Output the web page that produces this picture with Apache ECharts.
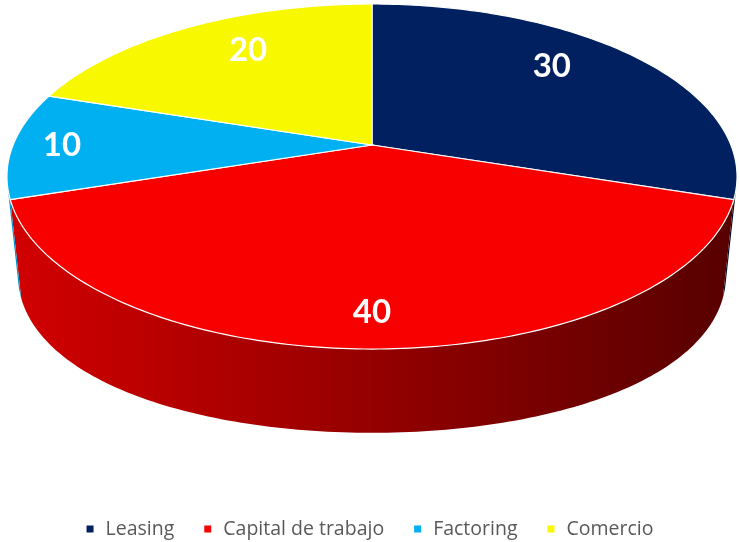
<!DOCTYPE html>
<html>
<head>
<meta charset="utf-8">
<script src="https://cdn.jsdelivr.net/npm/echarts@6/dist/echarts.min.js"></script>
<style>
  html, body { margin: 0; padding: 0; background: #ffffff; }
  #chart { width: 740px; height: 542px; }
</style>
</head>
<body>
<div id="chart"></div>
<script>
// Share of the portfolio by product line
const categories = ['Leasing', 'Capital de trabajo', 'Factoring', 'Comercio'];
const values = [30, 40, 10, 20];

// Face colours of each slice, and the shaded colours of its outer wall
const topColors = ['#002060', '#F80000', '#00B0F0', '#F8F800'];
const wallStops = [
  ['#001a4d', '#000c26'],
  ['#d40000', '#560000'],
  ['#0090c8', '#005070'],
  ['#c8c800', '#707000']
];

// Camera used to draw the disc in perspective (disc radius = 1)
const CX = 372, CY = 145;           // screen position of the disc centre
const TILT = 27.69 * Math.PI / 180; // elevation of the viewer
const DIST = 4.847;                 // viewer distance
const FOCAL = 358.9 * DIST;         // focal length in px
const THICK = 0.236;                // disc thickness
const SIDE_SWELL = 0.32;            // extra wall depth towards the flanks
const SA = Math.sin(TILT), CA = Math.cos(TILT);

function project(deg, rho, height) {
  const t = deg * Math.PI / 180;
  const X = rho * Math.sin(t), Z = rho * Math.cos(t);
  const yv = Z * SA + height * CA;
  const w = Z * CA - height * SA;
  const s = FOCAL / (DIST + w);
  return [CX + X * s, CY - yv * s];
}

// Lower rim of the disc wall below the rim point at angle deg
function projectBottom(deg) {
  const top = project(deg, 1, 0);
  const low = project(deg, 1, -THICK);
  const sn = Math.sin(deg * Math.PI / 180);
  const k = 1 + SIDE_SWELL * sn * sn;
  return [top[0] + (low[0] - top[0]) * k, top[1] + (low[1] - top[1]) * k];
}

// Angular extent of each slice, clockwise from the back of the disc
const total = values.reduce((a, b) => a + b, 0);
let acc = 0;
const sliceData = values.map((v, i) => {
  const start = acc / total * 360;
  acc += v;
  const end = acc / total * 360;
  return { name: categories[i], value: [v, start, end] };
});

// Outer wall faces the viewer where cos(theta) < -1 / (DIST * cos(tilt))
const wallLimit = Math.acos(-1 / (DIST * CA)) * 180 / Math.PI;
const wallFrom = wallLimit, wallTo = 360 - wallLimit;

// Label placement: shift from the mid-angle and radial fraction
const labelPlacement = [
  { turn: -7.4, rho: 0.755 },
  { turn: 0, rho: 0.85 },
  { turn: 0, rho: 0.864 },
  { turn: 4.8, rho: 0.744 }
];

function arcAngles(a0, a1) {
  const out = [];
  const n = Math.max(2, Math.ceil(Math.abs(a1 - a0)));
  for (let k = 0; k <= n; k++) out.push(a0 + (a1 - a0) * k / n);
  return out;
}

function renderWall(params, api) {
  const i = params.dataIndex;
  const a0 = Math.max(api.value(1), wallFrom);
  const a1 = Math.min(api.value(2), wallTo);
  if (a1 <= a0) return null;
  const topEdge = arcAngles(a0, a1).map(a => project(a, 1, 0));
  const bottomEdge = arcAngles(a1, a0).map(a => projectBottom(a));
  return {
    type: 'polygon',
    shape: { points: topEdge.concat(bottomEdge) },
    style: {
      fill: new echarts.graphic.LinearGradient(0, 0, 740, 0, [
        { offset: 0, color: wallStops[i][0] },
        { offset: 1, color: wallStops[i][1] }
      ], true)
    }
  };
}

function renderTop(params, api) {
  const i = params.dataIndex;
  const a0 = api.value(1), a1 = api.value(2);
  const pts = [project(0, 0, 0)].concat(arcAngles(a0, a1).map(a => project(a, 1, 0)));
  const place = labelPlacement[i];
  const lp = project((a0 + a1) / 2 + place.turn, place.rho, 0);
  return {
    type: 'group',
    children: [
      {
        type: 'polygon',
        shape: { points: pts },
        style: { fill: topColors[i], stroke: '#ffffff', lineWidth: 1.2 }
      },
      {
        type: 'text',
        x: lp[0], y: lp[1], z2: 10,
        style: {
          text: String(api.value(0)),
          fill: '#ffffff',
          font: 'bold 33px Lato',
          align: 'center',
          verticalAlign: 'middle'
        }
      }
    ]
  };
}

const chart = echarts.init(document.getElementById('chart'), null, { renderer: 'canvas' });
chart.setOption({
  animation: false,
  backgroundColor: '#ffffff',
  legend: {
    data: categories,
    left: 'center',
    top: 514,
    icon: 'rect',
    itemWidth: 7,
    itemHeight: 7,
    itemGap: 30,
    selectedMode: false,
    textStyle: { color: '#595959', fontSize: 19.5, fontFamily: 'Open Sans', padding: [0, 0, 0, 7] }
  },
  series: [
    {
      // carries the legend swatches
      type: 'pie',
      center: [-300, -300],
      radius: 5,
      silent: true,
      label: { show: false },
      data: categories.map((c, i) => ({ name: c, value: values[i], itemStyle: { color: topColors[i] } }))
    },
    {
      type: 'custom',
      name: 'wall',
      coordinateSystem: 'none',
      silent: true,
      z: 1,
      renderItem: renderWall,
      data: sliceData
    },
    {
      type: 'custom',
      name: 'top',
      coordinateSystem: 'none',
      silent: true,
      z: 2,
      renderItem: renderTop,
      data: sliceData
    }
  ]
});
</script>
</body>
</html>
